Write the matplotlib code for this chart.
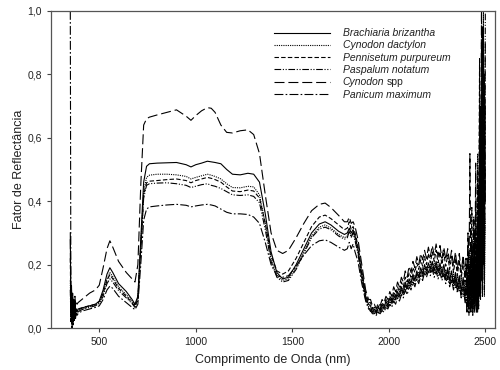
import matplotlib
matplotlib.use("Agg")
import matplotlib.pyplot as plt
from matplotlib.ticker import FuncFormatter

plt.rcParams['font.family'] = ['Liberation Sans', 'DejaVu Sans']

# wavelengths (nm): visible/NIR part, noisy SWIR part, and the very noisy tail
wl_a = [350, 353, 356, 359, 362, 365, 368, 371, 374, 377,
        380, 385, 390, 400, 420, 450, 480, 500, 520, 540,
        555, 570, 600, 640, 670, 685, 700, 715, 730, 745,
        760, 800, 850, 900, 950, 975, 1000, 1030, 1060, 1080,
        1100, 1130, 1160, 1190, 1230, 1270, 1300, 1330, 1360, 1390,
        1420, 1450, 1480, 1520, 1560, 1600, 1640, 1670, 1700, 1740,
        1770, 1785, 1795, 1805, 1815, 1825, 1840, 1860, 1880, 1895]
wl_b = [1905, 1915, 1925, 1935, 1945, 1955, 1965, 1975, 1985, 1995,
        2005, 2015, 2025, 2035, 2045, 2055, 2065, 2075, 2085, 2095,
        2105, 2115, 2125, 2135, 2145, 2155, 2165, 2175, 2185, 2195,
        2205, 2215, 2225, 2235, 2245, 2255, 2265, 2275, 2285, 2295,
        2305, 2315, 2325, 2335, 2345, 2355, 2365, 2375, 2385, 2395]
wl_c = [2400, 2405, 2410, 2415, 2420, 2425, 2430, 2435, 2440, 2445,
        2450, 2455, 2460, 2465, 2470, 2475, 2480, 2485, 2490, 2495, 2500]
wavelength = wl_a + wl_b + wl_c

brachiaria = [0.30, 0.05, 0.12, 0.02, 0.09, 0.03, 0.07, 0.04, 0.08, 0.05,
              0.06, 0.05, 0.06, 0.06, 0.065, 0.07, 0.075, 0.085, 0.12, 0.17,
              0.19, 0.175, 0.14, 0.115, 0.09, 0.075, 0.10, 0.28, 0.46, 0.51,
              0.518, 0.52, 0.521, 0.522, 0.515, 0.508, 0.515, 0.52, 0.526, 0.524,
              0.522, 0.518, 0.50, 0.485, 0.483, 0.488, 0.485, 0.46, 0.36, 0.24,
              0.175, 0.155, 0.16, 0.20, 0.25, 0.30, 0.328, 0.335, 0.325, 0.305,
              0.295, 0.30, 0.315, 0.30, 0.31, 0.29, 0.25, 0.17, 0.10, 0.075,
              0.07, 0.05, 0.06, 0.045, 0.065, 0.055, 0.075, 0.06, 0.085, 0.07,
              0.095, 0.08, 0.105, 0.09, 0.115, 0.10, 0.13, 0.11, 0.145, 0.125,
              0.155, 0.14, 0.17, 0.15, 0.18, 0.16, 0.19, 0.17, 0.20, 0.18,
              0.205, 0.185, 0.21, 0.18, 0.21, 0.175, 0.205, 0.17, 0.20, 0.16,
              0.19, 0.15, 0.18, 0.14, 0.175, 0.13, 0.165, 0.115, 0.16, 0.10,
              0.12, 0.17, 0.08, 0.15, 0.07, 0.22, 0.08, 0.18, 0.06, 0.30,
              0.07, 0.25, 0.05, 0.45, 0.10, 0.70, 0.15, 0.95, 0.20, 0.80, 0.40]

cynodon_dactylon = [0.15, 0.03, 0.10, 0.01, 0.08, 0.02, 0.06, 0.03, 0.07, 0.04,
                    0.055, 0.05, 0.055, 0.058, 0.062, 0.068, 0.072, 0.08, 0.11, 0.155,
                    0.175, 0.162, 0.13, 0.105, 0.085, 0.072, 0.095, 0.26, 0.43, 0.475,
                    0.482, 0.485, 0.485, 0.483, 0.478, 0.47, 0.475, 0.48, 0.485, 0.482,
                    0.478, 0.47, 0.455, 0.443, 0.442, 0.447, 0.445, 0.42, 0.33, 0.22,
                    0.165, 0.15, 0.155, 0.19, 0.24, 0.29, 0.318, 0.325, 0.315, 0.295,
                    0.285, 0.29, 0.31, 0.29, 0.305, 0.28, 0.24, 0.16, 0.095, 0.07,
                    0.05, 0.065, 0.045, 0.06, 0.045, 0.065, 0.055, 0.075, 0.06, 0.085,
                    0.07, 0.095, 0.08, 0.105, 0.09, 0.115, 0.10, 0.13, 0.115, 0.14,
                    0.13, 0.155, 0.14, 0.165, 0.15, 0.175, 0.16, 0.19, 0.17, 0.195,
                    0.175, 0.20, 0.18, 0.205, 0.17, 0.20, 0.165, 0.195, 0.16, 0.185,
                    0.15, 0.18, 0.14, 0.17, 0.125, 0.165, 0.115, 0.155, 0.10, 0.15,
                    0.10, 0.06, 0.16, 0.07, 0.25, 0.06, 0.14, 0.05, 0.35, 0.08,
                    0.20, 0.06, 0.55, 0.09, 0.30, 0.12, 0.75, 0.15, 1.0, 0.10, 0.35]

pennisetum = [0.22, 0.04, 0.11, 0.02, 0.10, 0.03, 0.08, 0.04, 0.09, 0.05,
              0.06, 0.055, 0.06, 0.062, 0.066, 0.07, 0.075, 0.083, 0.11, 0.15,
              0.168, 0.155, 0.125, 0.10, 0.08, 0.068, 0.09, 0.25, 0.42, 0.458,
              0.463, 0.465, 0.468, 0.47, 0.465, 0.458, 0.465, 0.47, 0.475, 0.472,
              0.468, 0.46, 0.445, 0.432, 0.43, 0.435, 0.432, 0.41, 0.33, 0.23,
              0.18, 0.17, 0.18, 0.22, 0.27, 0.32, 0.35, 0.356, 0.345, 0.325,
              0.31, 0.315, 0.335, 0.31, 0.32, 0.30, 0.26, 0.18, 0.11, 0.08,
              0.08, 0.06, 0.065, 0.05, 0.07, 0.06, 0.08, 0.07, 0.09, 0.08,
              0.10, 0.09, 0.115, 0.10, 0.13, 0.115, 0.145, 0.13, 0.16, 0.145,
              0.175, 0.16, 0.19, 0.175, 0.205, 0.185, 0.215, 0.195, 0.225, 0.20,
              0.235, 0.205, 0.24, 0.21, 0.245, 0.205, 0.24, 0.20, 0.235, 0.195,
              0.23, 0.185, 0.225, 0.175, 0.22, 0.165, 0.215, 0.155, 0.21, 0.145,
              0.19, 0.13, 0.25, 0.12, 0.20, 0.10, 0.38, 0.11, 0.24, 0.09,
              0.30, 0.10, 0.50, 0.12, 0.85, 0.15, 0.40, 0.20, 0.95, 0.25, 0.50]

paspalum = [0.12, 0.02, 0.09, 0.01, 0.07, 0.02, 0.05, 0.03, 0.06, 0.04,
            0.05, 0.045, 0.05, 0.055, 0.06, 0.065, 0.07, 0.077, 0.10, 0.14,
            0.155, 0.145, 0.118, 0.095, 0.077, 0.065, 0.088, 0.25, 0.41, 0.45,
            0.455, 0.457, 0.458, 0.455, 0.45, 0.443, 0.447, 0.452, 0.455, 0.45,
            0.447, 0.44, 0.43, 0.42, 0.418, 0.42, 0.415, 0.395, 0.31, 0.21,
            0.16, 0.145, 0.15, 0.185, 0.235, 0.285, 0.312, 0.318, 0.31, 0.29,
            0.28, 0.285, 0.305, 0.285, 0.30, 0.275, 0.235, 0.155, 0.09, 0.065,
            0.06, 0.05, 0.05, 0.045, 0.055, 0.05, 0.065, 0.06, 0.075, 0.065,
            0.085, 0.075, 0.095, 0.085, 0.105, 0.095, 0.12, 0.105, 0.135, 0.12,
            0.145, 0.13, 0.16, 0.14, 0.17, 0.15, 0.18, 0.16, 0.19, 0.17,
            0.195, 0.175, 0.20, 0.17, 0.195, 0.165, 0.19, 0.16, 0.185, 0.15,
            0.18, 0.14, 0.17, 0.13, 0.16, 0.12, 0.155, 0.105, 0.145, 0.09,
            0.14, 0.07, 0.20, 0.06, 0.12, 0.05, 0.28, 0.06, 0.16, 0.05,
            0.40, 0.07, 0.22, 0.06, 0.60, 0.10, 0.90, 0.12, 0.45, 0.15, 1.0]

cynodon_spp = [0.28, 0.06, 0.14, 0.03, 0.11, 0.05, 0.09, 0.06, 0.10, 0.07,
               0.08, 0.075, 0.08, 0.085, 0.095, 0.11, 0.12, 0.135, 0.19, 0.25,
               0.275, 0.255, 0.21, 0.175, 0.155, 0.145, 0.20, 0.45, 0.64, 0.66,
               0.665, 0.672, 0.68, 0.688, 0.668, 0.655, 0.67, 0.685, 0.695, 0.693,
               0.68, 0.64, 0.617, 0.615, 0.622, 0.625, 0.61, 0.55, 0.42, 0.30,
               0.245, 0.235, 0.245, 0.285, 0.33, 0.37, 0.39, 0.394, 0.38, 0.355,
               0.335, 0.335, 0.35, 0.33, 0.335, 0.32, 0.28, 0.20, 0.12, 0.09,
               0.09, 0.07, 0.075, 0.06, 0.08, 0.07, 0.09, 0.08, 0.10, 0.09,
               0.115, 0.10, 0.13, 0.115, 0.145, 0.13, 0.16, 0.145, 0.18, 0.16,
               0.195, 0.175, 0.21, 0.19, 0.225, 0.20, 0.235, 0.215, 0.245, 0.22,
               0.255, 0.225, 0.26, 0.23, 0.265, 0.225, 0.26, 0.22, 0.255, 0.215,
               0.25, 0.205, 0.245, 0.195, 0.24, 0.185, 0.235, 0.175, 0.23, 0.165,
               0.22, 0.15, 0.30, 0.14, 0.55, 0.12, 0.26, 0.13, 0.34, 0.10,
               0.52, 0.12, 0.30, 0.14, 0.70, 0.18, 1.0, 0.22, 0.60, 0.30, 0.90]

panicum = [1.0, 0.10, 0.05, 0.0, 0.06, 0.01, 0.05, 0.02, 0.05, 0.03,
           0.045, 0.04, 0.045, 0.05, 0.055, 0.06, 0.065, 0.07, 0.09, 0.12,
           0.132, 0.125, 0.10, 0.08, 0.065, 0.058, 0.075, 0.20, 0.34, 0.375,
           0.382, 0.385, 0.388, 0.39, 0.387, 0.382, 0.385, 0.388, 0.39, 0.388,
           0.385, 0.375, 0.365, 0.36, 0.36, 0.358, 0.35, 0.33, 0.27, 0.20,
           0.165, 0.16, 0.165, 0.195, 0.23, 0.26, 0.275, 0.278, 0.27, 0.255,
           0.245, 0.25, 0.27, 0.25, 0.265, 0.24, 0.21, 0.14, 0.085, 0.06,
           0.055, 0.045, 0.045, 0.04, 0.05, 0.045, 0.055, 0.05, 0.065, 0.06,
           0.075, 0.065, 0.085, 0.075, 0.095, 0.085, 0.105, 0.095, 0.12, 0.105,
           0.13, 0.12, 0.145, 0.13, 0.155, 0.14, 0.165, 0.15, 0.175, 0.16,
           0.18, 0.165, 0.185, 0.16, 0.18, 0.155, 0.175, 0.15, 0.17, 0.14,
           0.165, 0.13, 0.155, 0.12, 0.15, 0.11, 0.14, 0.095, 0.13, 0.08,
           0.09, 0.05, 0.13, 0.04, 0.18, 0.05, 0.10, 0.04, 0.22, 0.06,
           0.15, 0.05, 0.35, 0.07, 0.20, 0.09, 0.65, 0.10, 0.85, 0.12, 0.70]

# "Cynodon" is italic in the legend, "spp" is added upright after it
labels = ["Brachiaria brizantha", "Cynodon dactylon", "Pennisetum purpureum",
          "Paspalum notatum", "Cynodon", "Panicum maximum"]
series = [brachiaria, cynodon_dactylon, pennisetum, paspalum, cynodon_spp, panicum]
dashes = ['-', (0, (1, 1)), (0, (4, 2)), (0, (6, 1.5, 1, 1.5, 1, 1.5)),
          (0, (9, 3.5)), (0, (8, 2, 1.5, 2))]

fig = plt.figure(figsize=(5, 3.7), dpi=100)
ax = fig.add_axes([0.102, 0.1135, 0.888, 0.857])

for vals, lab, ls in zip(series, labels, dashes):
    ax.plot(wavelength, vals, color='black', lw=0.8, linestyle=ls, label=lab)

ax.set_xlim(250, 2550)
ax.set_ylim(0, 1.0)
ax.set_xticks([500, 1000, 1500, 2000, 2500])
ax.set_yticks([0, 0.2, 0.4, 0.6, 0.8, 1.0])
ax.yaxis.set_major_formatter(FuncFormatter(lambda v, p: f"{v:.1f}".replace('.', ',')))
ax.tick_params(direction='out', length=3, width=0.8, labelsize=7.5,
               colors='#444444', labelcolor='#222222', top=False, right=False)
for sp in ax.spines.values():
    sp.set_color('#555555')
    sp.set_linewidth(0.9)

ax.set_xlabel("Comprimento de Onda (nm)", fontsize=9, color='#222222', labelpad=5)
ax.set_ylabel("Fator de Reflectância", fontsize=9, color='#222222', labelpad=2)

leg = ax.legend(loc='upper left', bbox_to_anchor=(0.49, 0.962), frameon=False,
                fontsize=7.5, handlelength=5.4, labelspacing=0.22, borderpad=0,
                handletextpad=1.2)
for t in leg.get_texts():
    t.set_fontstyle('italic')
    t.set_color('#222222')

# drawn after the legend so the anchor text already has its place
spp_anchor = leg.get_texts()[4]
ax.annotate("spp", xy=(1, 0), xycoords=spp_anchor, xytext=(2.2, 0),
            textcoords='offset points', ha='left', va='bottom',
            fontsize=7.5, color='#222222', zorder=10)

fig.savefig("out.png", dpi=100)
